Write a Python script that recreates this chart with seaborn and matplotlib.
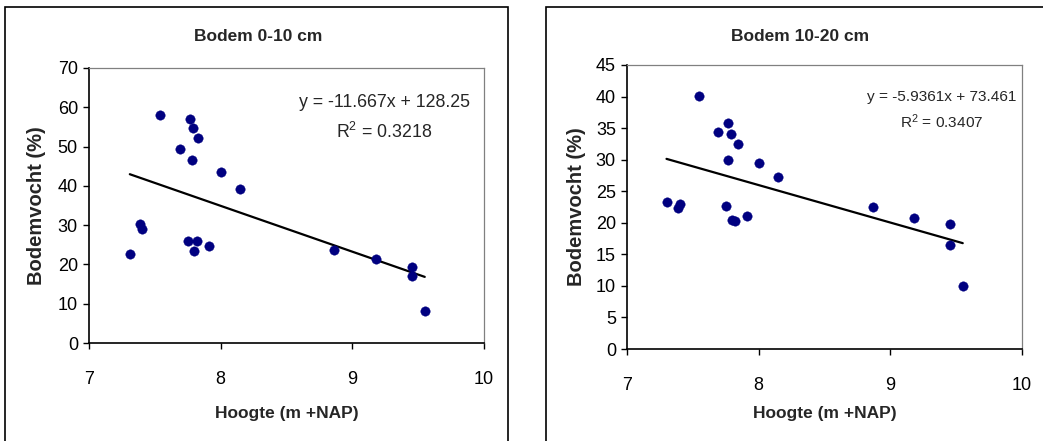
import matplotlib
matplotlib.use("Agg")
import matplotlib.pyplot as plt
from matplotlib.patches import Rectangle
import seaborn as sns
import pandas as pd
import numpy as np

# ---- data ----
hoogte_0_10 = [7.54, 7.77, 7.79, 7.83, 7.69, 7.78, 8.00, 8.15, 7.39, 7.40,
               7.31, 7.75, 7.82, 7.80, 7.91, 8.86, 9.18, 9.45, 9.45, 9.55]
vocht_0_10 = [58.1, 56.9, 54.8, 52.1, 49.3, 46.6, 43.5, 39.3, 30.3, 29.1,
              22.7, 26.0, 26.0, 23.3, 24.7, 23.7, 21.5, 19.3, 17.1, 8.1]

hoogte_10_20 = [7.55, 7.77, 7.69, 7.79, 7.84, 7.77, 8.00, 8.15, 7.30, 7.40,
                7.39, 7.75, 7.80, 7.82, 7.91, 8.87, 9.18, 9.45, 9.45, 9.55]
vocht_10_20 = [40.1, 35.8, 34.4, 34.1, 32.5, 29.9, 29.5, 27.3, 23.3, 23.0,
               22.3, 22.6, 20.5, 20.3, 21.0, 22.5, 20.7, 19.8, 16.5, 10.0]

titles = ["Bodem 0-10 cm", "Bodem 10-20 cm"]
slopes = [-11.667, -5.9361]
intercepts = [128.25, 73.461]
r2_values = [0.3218, 0.3407]
eq_labels = ["y = -11.667x + 128.25", "y = -5.9361x + 73.461"]
r2_labels = ["R$^2$ = 0.3218", "R$^2$ = 0.3407"]
x_ticks = [7, 8, 9, 10]
y_ticks_left = [0, 10, 20, 30, 40, 50, 60, 70]
y_ticks_right = [0, 5, 10, 15, 20, 25, 30, 35, 40, 45]
xlabel = "Hoogte (m +NAP)"
ylabel = "Bodemvocht (%)"

# ---- style ----
sns.set_theme(style="white")
plt.rcParams["font.family"] = ["Liberation Sans", "DejaVu Sans"]
plt.rcParams["mathtext.fontset"] = "custom"
plt.rcParams["mathtext.rm"] = "Liberation Sans"
plt.rcParams["mathtext.it"] = "Liberation Sans"

fig = plt.figure(figsize=(10.43, 4.41), dpi=100)

W, H = 1043.0, 441.0
def ax_rect(x0, x1, ytop, ybot):
    return [x0 / W, 1 - ybot / H, (x1 - x0) / W, (ybot - ytop) / H]

ax1 = fig.add_axes(ax_rect(89, 484, 68, 343))
ax2 = fig.add_axes(ax_rect(627, 1022, 65, 349))

# panel frames
fig.add_artist(Rectangle((5 / W, -0.05), (508 - 5) / W, 1.05 - 7 / H,
                         transform=fig.transFigure, fill=False,
                         ec="black", lw=1.2))
fig.add_artist(Rectangle((546 / W, -0.05), 0.6, 1.05 - 7 / H,
                         transform=fig.transFigure, fill=False,
                         ec="black", lw=1.2))

datasets = [
    (ax1, hoogte_0_10, vocht_0_10, (0, 70), y_ticks_left),
    (ax2, hoogte_10_20, vocht_10_20, (0, 45), y_ticks_right),
]
title_pos = [(0.428, 1.116), (0.438, 1.102)]
eq_pos = [(0.747, 0.876, 0.767, 12.8), (0.797, 0.887, 0.799, 11.1)]
ylab_x = [-0.108, -0.103]
xlab_y = [-0.228, -0.200]

for i, (ax, xs, ys, ylim, yticks) in enumerate(datasets):
    df = pd.DataFrame({"x": xs, "y": ys})
    sns.scatterplot(data=df, x="x", y="y", ax=ax, color="#000080",
                    s=46, edgecolor="#000080", linewidth=0.3, zorder=3)
    xmin, xmax = min(xs), max(xs)
    tl = pd.DataFrame({"x": [xmin, xmax],
                       "y": [slopes[i] * xmin + intercepts[i],
                             slopes[i] * xmax + intercepts[i]]})
    sns.lineplot(data=tl, x="x", y="y", ax=ax, color="black", lw=1.6,
                 zorder=2)

    ax.set_xlim(7, 10)
    ax.set_ylim(*ylim)
    ax.set_xticks(x_ticks)
    ax.set_yticks(yticks)
    ax.tick_params(axis="both", direction="out", length=4, width=1,
                   colors="black", labelsize=13, left=True, bottom=True)
    ax.tick_params(axis="x", pad=16)
    ax.tick_params(axis="y", pad=4)

    for s in ["left", "bottom"]:
        ax.spines[s].set_color("black")
        ax.spines[s].set_linewidth(1.2)
    for s in ["top", "right"]:
        ax.spines[s].set_color("#808080")
        ax.spines[s].set_linewidth(0.9)

    ax.set_xlabel(xlabel, fontsize=12.5, fontweight="bold")
    ax.set_ylabel(ylabel, fontsize=14.5, fontweight="bold")
    ax.xaxis.set_label_coords(0.5, xlab_y[i])
    ax.xaxis.label.set_va("top")
    ax.yaxis.set_label_coords(ylab_x[i], 0.5)

    tx, ty = title_pos[i]
    ax.set_title(titles[i], x=tx, y=ty, va="center", fontsize=12.5,
                 fontweight="bold", pad=0)

    ex, ey, ry, fs = eq_pos[i]
    ax.text(ex, ey, eq_labels[i], transform=ax.transAxes, ha="center",
            va="center", fontsize=fs)
    ax.text(ex, ry, r2_labels[i], transform=ax.transAxes, ha="center",
            va="center", fontsize=fs)

fig.savefig("out.png", dpi=100)
